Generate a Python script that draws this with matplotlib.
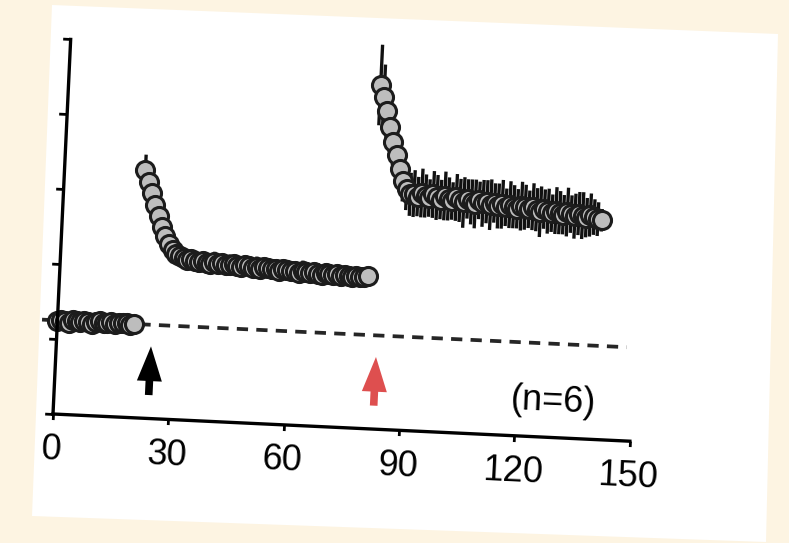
import matplotlib
matplotlib.use("Agg")
import matplotlib.pyplot as plt
from matplotlib.patches import Polygon
from matplotlib.transforms import Affine2D
import mpl_toolkits.axisartist.floating_axes as floating_axes
from mpl_toolkits.axisartist.grid_finder import FixedLocator, DictFormatter

plt.rcParams['font.family'] = ['Liberation Sans', 'DejaVu Sans']

# time (min) and response, mean +/- sem
t_base = list(range(0, 21))
v_base = [99, 101, 100, 98, 101, 100, 99, 101, 100, 98, 100,
          101, 99, 100, 101, 99, 100, 100, 101, 99, 100]
e_base = [3, 4, 3, 3, 4, 3, 4, 3, 3, 4, 3, 4, 3, 3, 4, 3, 3, 4, 3, 3, 3]

t_first = list(range(21, 81))
v_first = [265, 252, 240, 228, 216, 205, 195, 187, 181, 177,
           175, 173, 171, 172, 170, 169, 171, 169, 168, 170,
           168, 169, 167, 168, 169, 167, 166, 168, 167, 166,
           167, 165, 167, 166, 165, 166, 164, 166, 165, 164,
           165, 163, 165, 164, 163, 164, 163, 162, 164, 163,
           162, 163, 161, 163, 162, 161, 162, 161, 162, 163]
e_first = [16, 12, 10, 9, 9, 8, 8, 9, 8, 9,
           10, 9, 10, 9, 10, 11, 9, 10, 9, 11,
           10, 9, 10, 11, 9, 10, 10, 11, 9, 10,
           11, 10, 9, 10, 11, 10, 9, 10, 11, 10,
           9, 10, 11, 10, 9, 10, 11, 9, 10, 10,
           9, 10, 11, 10, 9, 10, 9, 10, 9, 8]

t_second = list(range(81, 141))
v_second = [367, 354, 340, 323, 307, 293, 278, 266, 257, 252,
            253, 250, 254, 251, 249, 253, 250, 248, 252, 249,
            247, 251, 248, 246, 250, 247, 245, 249, 246, 248,
            245, 247, 244, 246, 243, 246, 244, 242, 245, 244,
            242, 245, 242, 240, 243, 241, 239, 242, 240, 238,
            241, 239, 237, 240, 238, 236, 239, 237, 235, 234]
e_second = [43, 35, 30, 27, 25, 24, 23, 22, 22, 23,
            25, 21, 26, 23, 20, 25, 24, 21, 26, 23,
            20, 25, 23, 27, 21, 24, 26, 20, 25, 23,
            27, 21, 24, 26, 20, 25, 23, 21, 26, 24,
            20, 25, 23, 27, 21, 24, 20, 25, 23, 21,
            26, 20, 24, 23, 25, 21, 23, 19, 18, 12]

x_ticks = [0, 30, 60, 90, 120, 150]
y_ticks = [0, 80, 160, 240, 320, 400]
baseline = 100
drug_times = [24.6, 83.1]
drug_colors = ['black', '#de4f4f']
n_label = '(n=6)'

W, H = 789, 543
tilt = -2.7
fig = plt.figure(figsize=(W / 100, H / 100), dpi=100, facecolor='#fdf4e2')

# scanned page, slightly skewed
page = [(52, 5), (778, 34), (766, 542), (32, 516)]
fig.add_artist(Polygon([(x / W, 1 - y / H) for x, y in page], closed=True,
                       transform=fig.transFigure, facecolor='white',
                       edgecolor='none', zorder=-1))

# data -> figure pixels, tilted like the page
tr = Affine2D().scale(3.85, 0.9375).rotate_deg(tilt).translate(53, H - 414)
helper = floating_axes.GridHelperCurveLinear(
    tr, extremes=(0, 150, 0, 400),
    grid_locator1=FixedLocator(x_ticks),
    grid_locator2=FixedLocator(y_ticks),
    tick_formatter1=DictFormatter({v: str(v) for v in x_ticks}),
    tick_formatter2=DictFormatter({v: '' for v in y_ticks}))

ax = fig.add_axes([0, 0, 1, 1], axes_class=floating_axes.FloatingAxes,
                  grid_helper=helper)
ax.set_aspect('auto')
ax.set_xlim(0, W)
ax.set_ylim(0, H)
ax.patch.set_visible(False)

for side in ['top', 'right']:
    ax.axis[side].set_visible(False)
for side, size in [('left', 6), ('bottom', 4)]:
    a = ax.axis[side]
    a.line.set_linewidth(2.4)
    a.major_ticks.set_tick_out(True)
    a.major_ticks.set_ticksize(size)
    a.major_ticks.set_markeredgewidth(2)
    a.major_ticks.set_color('black')
ax.axis['left'].major_ticklabels.set_visible(False)
ax.axis['bottom'].major_ticklabels.set_fontsize(26)
ax.axis['bottom'].major_ticklabels.set_pad(10)

aux = ax.get_aux_axes(tr)

aux.plot([-4, 148], [baseline, baseline], ls=(0, (3.0, 2.2)), lw=2.7,
         color='#262626', zorder=1, clip_on=False)

for t, v, e in [(t_base, v_base, e_base), (t_first, v_first, e_first),
                (t_second, v_second, e_second)]:
    cont = aux.errorbar(t, v, yerr=e, fmt='o', ms=13, mfc='#bdbdbd',
                        mec='#1c1c1c', mew=2.2, ecolor='#111111',
                        elinewidth=2.4, capsize=0, zorder=2)
    for art in cont.get_children():
        art.set_clip_on(False)

for t, c in zip(drug_times, drug_colors):
    aux.annotate('', xy=(t, 77), xytext=(t, 25),
                 arrowprops=dict(arrowstyle='simple,head_length=25,head_width=18,tail_width=5.5',
                                 mutation_scale=1, facecolor=c, edgecolor='none',
                                 shrinkA=0, shrinkB=0))

aux.text(129.6, 38, n_label, fontsize=26, ha='center', va='center',
         rotation=tilt, rotation_mode='anchor')

fig.savefig('out.png', dpi=100)
